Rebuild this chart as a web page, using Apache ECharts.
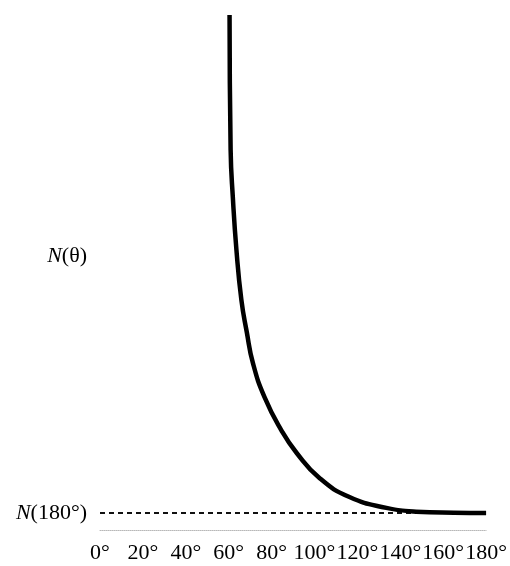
<!DOCTYPE html>
<html>
<head>
<meta charset="utf-8">
<script src="https://cdn.jsdelivr.net/npm/echarts@6/dist/echarts.min.js"></script>
<style>html,body{margin:0;padding:0;background:#fff}#c{width:510px;height:566px}</style>
</head>
<body>
<div id="c"></div>
<script>
// angle in degrees, N(theta) in arbitrary units (0..100 visible)
const thetaVals = [60.4, 60.9, 62.0, 63.6, 65.9, 68.4, 71.3, 76.7, 84.5, 91.6, 102.3, 116.3, 133.5, 147.4, 165, 180];
const nVals     = [100, 73.8, 64.1, 54.4, 44.7, 38.5, 32.4, 25.8, 19.4, 15.0, 10.1, 6.4, 4.3, 3.55, 3.35, 3.3];
const n180 = 3.3;
const xTicks = [0, 20, 40, 60, 80, 100, 120, 140, 160, 180];
const yLabelN180 = n180;
const yLabelNTheta = 53.2;

const chart = echarts.init(document.getElementById('c'), null, {renderer: 'canvas'});
const serif = '"Liberation Serif", "DejaVu Serif", serif';
chart.setOption({
  animation: false,
  backgroundColor: '#fff',
  grid: {left: 100, right: 23, top: 15, bottom: 36, containLabel: false},
  xAxis: {
    type: 'value', min: xTicks[0], max: xTicks[xTicks.length - 1], interval: 20,
    axisLine: {show: true, lineStyle: {color: '#b8b8b8', type: 'dotted', width: 1}},
    axisTick: {show: false},
    splitLine: {show: false},
    axisLabel: {
      margin: 12, color: '#000', fontFamily: serif, fontSize: 22,
      formatter: v => v + '°'
    }
  },
  yAxis: {
    type: 'value', min: 0, max: 100,
    axisLine: {show: false}, axisTick: {show: false}, splitLine: {show: false},
    axisLabel: {
      show: true,
      customValues: [yLabelN180, yLabelNTheta],
      margin: 13,
      color: '#000', fontFamily: serif, fontSize: 22,
      formatter: v => Math.abs(v - yLabelN180) < 0.01 ? '{i|N}(180°)' : '{i|N}(θ)',
      rich: {i: {fontStyle: 'italic', fontFamily: serif, fontSize: 22, color: '#000'}}
    }
  },
  series: [
    {
      type: 'line',
      data: [[0, n180], [180, n180]],
      symbol: 'none',
      lineStyle: {color: '#111', width: 2, type: [5, 4]},
      z: 1
    },
    {
      type: 'line',
      data: thetaVals.map((t, i) => [t, nVals[i]]),
      symbol: 'none',
      smooth: 0.5,
      clip: true,
      lineStyle: {color: '#000', width: 4.5, cap: 'butt', join: 'round'},
      z: 2
    }
  ]
});
</script>
</body>
</html>
